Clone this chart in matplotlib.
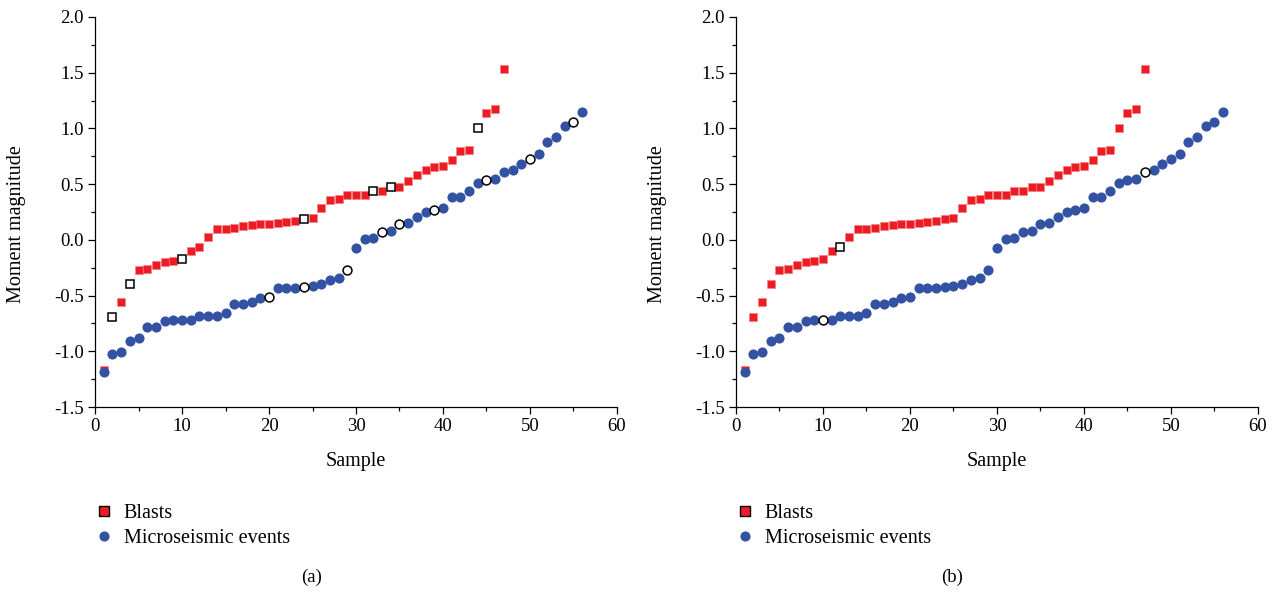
import numpy as np
import matplotlib
matplotlib.use('Agg')
import matplotlib.pyplot as pl
from matplotlib.lines import Line2D
from matplotlib.ticker import MultipleLocator

pl.rcParams['font.family'] = ['Liberation Serif', 'DejaVu Serif']

# moment magnitude, sorted, sample number = index + 1
blasts = [-1.17, -0.69, -0.56, -0.40, -0.27, -0.26, -0.23, -0.20, -0.19, -0.175,
          -0.10, -0.06, 0.03, 0.10, 0.10, 0.11, 0.12, 0.13, 0.14, 0.14,
          0.15, 0.16, 0.165, 0.19, 0.20, 0.29, 0.355, 0.37, 0.40, 0.40,
          0.405, 0.435, 0.435, 0.47, 0.47, 0.53, 0.58, 0.63, 0.65, 0.66,
          0.72, 0.80, 0.81, 1.00, 1.14, 1.17, 1.53]
micro = [-1.186, -1.027, -1.006, -0.911, -0.878, -0.782, -0.782, -0.731, -0.716, -0.72,
         -0.716, -0.686, -0.68, -0.68, -0.653, -0.576, -0.576, -0.555, -0.522, -0.516,
         -0.435, -0.435, -0.432, -0.423, -0.411, -0.399, -0.363, -0.340, -0.273, -0.076,
         0.008, 0.014, 0.071, 0.080, 0.140, 0.151, 0.202, 0.253, 0.265, 0.283,
         0.387, 0.387, 0.438, 0.507, 0.540, 0.543, 0.606, 0.630, 0.681, 0.726,
         0.768, 0.878, 0.920, 1.025, 1.058, 1.150]

# samples drawn as open markers in each panel
open_blasts_a = [2, 4, 10, 24, 32, 34, 44]
open_micro_a = [20, 24, 29, 33, 35, 39, 45, 50, 55]
open_blasts_b = [12]
open_micro_b = [10, 47]

RED = '#ED1C24'
BLUE = '#3452A4'


def split(vals, open_idx):
    x = np.arange(1, len(vals) + 1)
    y = np.array(vals)
    mask = np.isin(x, open_idx)
    return x[~mask], y[~mask], x[mask], y[mask]


def panel(ax, open_b, open_m, tag):
    xf, yf, xo, yo = split(blasts, open_b)
    ax.plot(xf, yf, 's', color=RED, ms=6.4, mec='#F07C80', mew=0.4, zorder=3, clip_on=False)
    ax.plot(xo, yo, 's', mfc='white', mec='black', ms=5.8, mew=1.1, zorder=3, clip_on=False)
    xf, yf, xo, yo = split(micro, open_m)
    ax.plot(xf, yf, 'o', color=BLUE, ms=7.3, mec=BLUE, mew=0, zorder=4, clip_on=False)
    ax.plot(xo, yo, 'o', mfc='white', mec='black', ms=6.4, mew=1.1, zorder=4, clip_on=False)

    ax.set_xlim(0, 60)
    ax.set_ylim(-1.5, 2.0)
    ax.xaxis.set_major_locator(MultipleLocator(10))
    ax.xaxis.set_minor_locator(MultipleLocator(5))
    ax.yaxis.set_major_locator(MultipleLocator(0.5))
    ax.yaxis.set_minor_locator(MultipleLocator(0.25))
    ax.yaxis.set_major_formatter(pl.FormatStrFormatter('%.1f'))
    ax.spines['top'].set_visible(False)
    ax.spines['right'].set_visible(False)
    for s in ('left', 'bottom'):
        ax.spines[s].set_linewidth(0.9)
    ax.tick_params(which='major', direction='out', length=5, width=0.9, labelsize=13.5, pad=3)
    ax.tick_params(which='minor', direction='out', length=3, width=0.9)
    ax.set_xlabel('Sample', fontsize=14.5)
    ax.set_ylabel('Moment magnitude', fontsize=14.5)
    ax.xaxis.set_label_coords(0.5, -0.115)
    ax.yaxis.set_label_coords(-0.132, 0.47)

    handles = [Line2D([], [], ls='none', marker='s', mfc=RED, mec='black', ms=7, mew=1.0),
               Line2D([], [], ls='none', marker='o', mfc=BLUE, mec=BLUE, ms=7.3, mew=0)]
    ax.legend(handles, ['Blasts', 'Microseismic events'], loc='upper left',
              bbox_to_anchor=(-0.022, -0.228), frameon=False, fontsize=14.5,
              handletextpad=0.4, labelspacing=0.3, borderaxespad=0, handlelength=1.2)
    ax.text(0.414, -0.436, tag, transform=ax.transAxes, ha='center', va='center', fontsize=13.5)


fig = pl.figure(figsize=(12.76, 5.92), dpi=100)
ax1 = fig.add_axes([0.0745, 0.3125, 0.409, 0.6588])
ax2 = fig.add_axes([0.5768, 0.3125, 0.409, 0.6588])
panel(ax1, open_blasts_a, open_micro_a, '(a)')
panel(ax2, open_blasts_b, open_micro_b, '(b)')

fig.savefig('out.png', dpi=100)
